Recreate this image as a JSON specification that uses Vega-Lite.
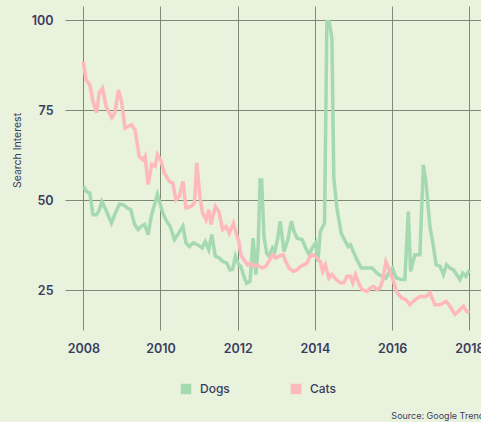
{
  "$schema": "https://vega.github.io/schema/vega-lite/v6.json",
  "autosize": {"type": "none"},
  "padding": {"left": 65, "top": 6, "right": 0, "bottom": 92},
  "width": 416,
  "height": 324,
  "background": "#e9f2dc",
  "config": {
    "view": {"stroke": null},
    "font": "Inter",
    "axis": {"labelFont": "Inter", "titleFont": "Inter"}
  },
  "title": {
    "text": "Source: Google Trends",
    "orient": "bottom",
    "anchor": "end",
    "fontSize": 9,
    "fontWeight": "normal",
    "color": "#3a3c5e",
    "dx": 5,
    "offset": 17
  },
  "data": {
    "values": [
      {"animal":"Dogs","year":2008.01,"value":53.9},{"animal":"Dogs","year":2008.08,"value":52.5},{"animal":"Dogs","year":2008.17,"value":52},{"animal":"Dogs","year":2008.25,"value":46},{"animal":"Dogs","year":2008.34,"value":46},{"animal":"Dogs","year":2008.40,"value":47},{"animal":"Dogs","year":2008.48,"value":49.7},{"animal":"Dogs","year":2008.60,"value":47},{"animal":"Dogs","year":2008.73,"value":43.7},{"animal":"Dogs","year":2008.83,"value":46.5},{"animal":"Dogs","year":2008.94,"value":49},{"animal":"Dogs","year":2009.03,"value":48.8},{"animal":"Dogs","year":2009.14,"value":47.9},{"animal":"Dogs","year":2009.23,"value":47.4},{"animal":"Dogs","year":2009.33,"value":43.3},{"animal":"Dogs","year":2009.42,"value":41.9},{"animal":"Dogs","year":2009.50,"value":42.8},{"animal":"Dogs","year":2009.59,"value":43.3},{"animal":"Dogs","year":2009.68,"value":40.5},{"animal":"Dogs","year":2009.76,"value":45.6},{"animal":"Dogs","year":2009.92,"value":51.6},{"animal":"Dogs","year":2010.01,"value":48.3},{"animal":"Dogs","year":2010.06,"value":46.5},{"animal":"Dogs","year":2010.14,"value":44.6},{"animal":"Dogs","year":2010.25,"value":42.8},{"animal":"Dogs","year":2010.36,"value":39.1},{"animal":"Dogs","year":2010.47,"value":40.9},{"animal":"Dogs","year":2010.58,"value":42.8},{"animal":"Dogs","year":2010.66,"value":38.2},{"animal":"Dogs","year":2010.75,"value":37.2},{"animal":"Dogs","year":2010.85,"value":38.2},{"animal":"Dogs","year":2010.96,"value":37.7},{"animal":"Dogs","year":2011.08,"value":36.8},{"animal":"Dogs","year":2011.16,"value":38.6},{"animal":"Dogs","year":2011.25,"value":36.3},{"animal":"Dogs","year":2011.33,"value":40.5},{"animal":"Dogs","year":2011.42,"value":34.5},{"animal":"Dogs","year":2011.52,"value":34},{"animal":"Dogs","year":2011.61,"value":33.1},{"animal":"Dogs","year":2011.72,"value":32.6},{"animal":"Dogs","year":2011.80,"value":30.7},{"animal":"Dogs","year":2011.87,"value":30.9},{"animal":"Dogs","year":2011.94,"value":34.5},{"animal":"Dogs","year":2012.03,"value":32.1},{"animal":"Dogs","year":2012.08,"value":31.7},{"animal":"Dogs","year":2012.16,"value":28.9},{"animal":"Dogs","year":2012.23,"value":27.0},{"animal":"Dogs","year":2012.32,"value":27.5},{"animal":"Dogs","year":2012.40,"value":39.5},{"animal":"Dogs","year":2012.47,"value":29.4},{"animal":"Dogs","year":2012.53,"value":37.2},{"animal":"Dogs","year":2012.58,"value":55.7},{"animal":"Dogs","year":2012.62,"value":55.7},{"animal":"Dogs","year":2012.68,"value":40},{"animal":"Dogs","year":2012.75,"value":35.4},{"animal":"Dogs","year":2012.81,"value":34.5},{"animal":"Dogs","year":2012.90,"value":36.8},{"animal":"Dogs","year":2012.96,"value":35.8},{"animal":"Dogs","year":2013.03,"value":39.1},{"animal":"Dogs","year":2013.10,"value":44.2},{"animal":"Dogs","year":2013.16,"value":39.1},{"animal":"Dogs","year":2013.20,"value":35.8},{"animal":"Dogs","year":2013.30,"value":39.1},{"animal":"Dogs","year":2013.39,"value":44.2},{"animal":"Dogs","year":2013.46,"value":41.4},{"animal":"Dogs","year":2013.54,"value":39.5},{"animal":"Dogs","year":2013.67,"value":39.1},{"animal":"Dogs","year":2013.76,"value":36.8},{"animal":"Dogs","year":2013.85,"value":34.9},{"animal":"Dogs","year":2013.93,"value":36.8},{"animal":"Dogs","year":2014.02,"value":38.2},{"animal":"Dogs","year":2014.08,"value":33},{"animal":"Dogs","year":2014.14,"value":41.4},{"animal":"Dogs","year":2014.25,"value":43.7},{"animal":"Dogs","year":2014.31,"value":99.7},{"animal":"Dogs","year":2014.37,"value":99.7},{"animal":"Dogs","year":2014.44,"value":95.1},{"animal":"Dogs","year":2014.49,"value":56.2},{"animal":"Dogs","year":2014.57,"value":47.9},{"animal":"Dogs","year":2014.68,"value":40.9},{"animal":"Dogs","year":2014.79,"value":38.6},{"animal":"Dogs","year":2014.86,"value":37.2},{"animal":"Dogs","year":2014.92,"value":37.7},{"animal":"Dogs","year":2015.01,"value":35.4},{"animal":"Dogs","year":2015.09,"value":33.5},{"animal":"Dogs","year":2015.20,"value":31.2},{"animal":"Dogs","year":2015.31,"value":31.2},{"animal":"Dogs","year":2015.48,"value":31.2},{"animal":"Dogs","year":2015.61,"value":29.8},{"animal":"Dogs","year":2015.74,"value":28.9},{"animal":"Dogs","year":2015.84,"value":28.4},{"animal":"Dogs","year":2015.95,"value":30.5},{"animal":"Dogs","year":2016.01,"value":31.2},{"animal":"Dogs","year":2016.07,"value":29.4},{"animal":"Dogs","year":2016.12,"value":28.4},{"animal":"Dogs","year":2016.25,"value":28},{"animal":"Dogs","year":2016.33,"value":28},{"animal":"Dogs","year":2016.42,"value":46.9},{"animal":"Dogs","year":2016.48,"value":30.3},{"animal":"Dogs","year":2016.59,"value":34.9},{"animal":"Dogs","year":2016.72,"value":34.9},{"animal":"Dogs","year":2016.81,"value":59.9},{"animal":"Dogs","year":2016.88,"value":54.8},{"animal":"Dogs","year":2016.98,"value":42.8},{"animal":"Dogs","year":2017.07,"value":37.2},{"animal":"Dogs","year":2017.14,"value":32.1},{"animal":"Dogs","year":2017.24,"value":31.7},{"animal":"Dogs","year":2017.33,"value":29.4},{"animal":"Dogs","year":2017.41,"value":32.1},{"animal":"Dogs","year":2017.50,"value":31.2},{"animal":"Dogs","year":2017.59,"value":30.7},{"animal":"Dogs","year":2017.67,"value":29.4},{"animal":"Dogs","year":2017.76,"value":28},{"animal":"Dogs","year":2017.83,"value":29.8},{"animal":"Dogs","year":2017.91,"value":28.9},{"animal":"Dogs","year":2018.00,"value":30.7},
      {"animal":"Cats","year":2008.00,"value":88.6},{"animal":"Cats","year":2008.07,"value":83.5},{"animal":"Cats","year":2008.17,"value":82.1},{"animal":"Cats","year":2008.26,"value":77.1},{"animal":"Cats","year":2008.35,"value":74.4},{"animal":"Cats","year":2008.41,"value":79.9},{"animal":"Cats","year":2008.50,"value":81.2},{"animal":"Cats","year":2008.59,"value":76.1},{"animal":"Cats","year":2008.74,"value":73},{"animal":"Cats","year":2008.82,"value":74.4},{"animal":"Cats","year":2008.91,"value":80.7},{"animal":"Cats","year":2008.99,"value":77.5},{"animal":"Cats","year":2009.08,"value":70.1},{"animal":"Cats","year":2009.25,"value":71},{"animal":"Cats","year":2009.34,"value":69.6},{"animal":"Cats","year":2009.45,"value":62.2},{"animal":"Cats","year":2009.55,"value":61.3},{"animal":"Cats","year":2009.60,"value":62.2},{"animal":"Cats","year":2009.68,"value":54.4},{"animal":"Cats","year":2009.77,"value":60},{"animal":"Cats","year":2009.86,"value":59.5},{"animal":"Cats","year":2009.92,"value":62.7},{"animal":"Cats","year":2010.01,"value":61},{"animal":"Cats","year":2010.10,"value":57.6},{"animal":"Cats","year":2010.23,"value":55.3},{"animal":"Cats","year":2010.32,"value":54.8},{"animal":"Cats","year":2010.40,"value":50.2},{"animal":"Cats","year":2010.49,"value":51.1},{"animal":"Cats","year":2010.58,"value":55.3},{"animal":"Cats","year":2010.66,"value":47.9},{"animal":"Cats","year":2010.79,"value":48.3},{"animal":"Cats","year":2010.88,"value":49.3},{"animal":"Cats","year":2010.94,"value":60.4},{"animal":"Cats","year":2011.02,"value":51.1},{"animal":"Cats","year":2011.09,"value":46.5},{"animal":"Cats","year":2011.18,"value":44.6},{"animal":"Cats","year":2011.25,"value":47.4},{"animal":"Cats","year":2011.31,"value":43.3},{"animal":"Cats","year":2011.42,"value":48.3},{"animal":"Cats","year":2011.51,"value":46.9},{"animal":"Cats","year":2011.61,"value":41.9},{"animal":"Cats","year":2011.70,"value":42.8},{"animal":"Cats","year":2011.78,"value":40.9},{"animal":"Cats","year":2011.89,"value":43.7},{"animal":"Cats","year":2011.97,"value":40.5},{"animal":"Cats","year":2012.04,"value":38.2},{"animal":"Cats","year":2012.08,"value":34.9},{"animal":"Cats","year":2012.16,"value":33.5},{"animal":"Cats","year":2012.25,"value":32.1},{"animal":"Cats","year":2012.34,"value":32.6},{"animal":"Cats","year":2012.40,"value":31.7},{"animal":"Cats","year":2012.49,"value":32.1},{"animal":"Cats","year":2012.64,"value":31.2},{"animal":"Cats","year":2012.73,"value":31.7},{"animal":"Cats","year":2012.81,"value":33.1},{"animal":"Cats","year":2012.90,"value":34.9},{"animal":"Cats","year":2012.98,"value":34},{"animal":"Cats","year":2013.07,"value":34.5},{"animal":"Cats","year":2013.18,"value":34.9},{"animal":"Cats","year":2013.24,"value":33.1},{"animal":"Cats","year":2013.33,"value":31.2},{"animal":"Cats","year":2013.44,"value":30.3},{"animal":"Cats","year":2013.54,"value":30.7},{"animal":"Cats","year":2013.63,"value":31.7},{"animal":"Cats","year":2013.72,"value":32.1},{"animal":"Cats","year":2013.80,"value":32.6},{"animal":"Cats","year":2013.87,"value":34.5},{"animal":"Cats","year":2013.96,"value":34.9},{"animal":"Cats","year":2014.05,"value":34},{"animal":"Cats","year":2014.14,"value":33},{"animal":"Cats","year":2014.20,"value":30.3},{"animal":"Cats","year":2014.27,"value":32.1},{"animal":"Cats","year":2014.36,"value":28.4},{"animal":"Cats","year":2014.44,"value":29.4},{"animal":"Cats","year":2014.55,"value":28},{"animal":"Cats","year":2014.66,"value":27.1},{"animal":"Cats","year":2014.75,"value":27.1},{"animal":"Cats","year":2014.83,"value":28.9},{"animal":"Cats","year":2014.92,"value":28.9},{"animal":"Cats","year":2014.98,"value":27.1},{"animal":"Cats","year":2015.05,"value":29.4},{"animal":"Cats","year":2015.13,"value":27.1},{"animal":"Cats","year":2015.22,"value":25.2},{"animal":"Cats","year":2015.35,"value":24.7},{"animal":"Cats","year":2015.44,"value":25.7},{"animal":"Cats","year":2015.52,"value":26.1},{"animal":"Cats","year":2015.61,"value":25.2},{"animal":"Cats","year":2015.69,"value":25.7},{"animal":"Cats","year":2015.76,"value":28},{"animal":"Cats","year":2015.84,"value":33},{"animal":"Cats","year":2015.93,"value":30.7},{"animal":"Cats","year":2016.04,"value":27.5},{"animal":"Cats","year":2016.12,"value":24.5},{"animal":"Cats","year":2016.25,"value":22.9},{"animal":"Cats","year":2016.36,"value":22.4},{"animal":"Cats","year":2016.46,"value":21},{"animal":"Cats","year":2016.59,"value":22.4},{"animal":"Cats","year":2016.72,"value":23.3},{"animal":"Cats","year":2016.88,"value":23.3},{"animal":"Cats","year":2016.98,"value":24.3},{"animal":"Cats","year":2017.11,"value":21},{"animal":"Cats","year":2017.24,"value":21},{"animal":"Cats","year":2017.40,"value":21.9},{"animal":"Cats","year":2017.50,"value":20.6},{"animal":"Cats","year":2017.63,"value":18.3},{"animal":"Cats","year":2017.76,"value":19.7},{"animal":"Cats","year":2017.85,"value":20.6},{"animal":"Cats","year":2017.93,"value":19.2},{"animal":"Cats","year":2018.00,"value":18.7}
    ]
  },
  "mark": {"type": "line", "strokeWidth": 3.5, "strokeJoin": "miter", "clip": true},
  "encoding": {
    "x": {
      "field": "year",
      "type": "quantitative",
      "scale": {"domain": [2007.526, 2018.303], "nice": false, "zero": false},
      "axis": {
        "values": [2008, 2010, 2012, 2014, 2016, 2018],
        "format": "d",
        "title": null,
        "domain": false,
        "ticks": false,
        "labelPadding": 12,
        "labelFontSize": 12.5,
        "labelFontWeight": 600,
        "labelColor": "#3a3c5e",
        "gridColor": "#7f8975",
        "gridOpacity": 1,
        "gridWidth": 1
      }
    },
    "y": {
      "field": "value",
      "type": "quantitative",
      "scale": {"domain": [14, 104], "nice": false, "zero": false},
      "axis": {
        "values": [25, 50, 75, 100],
        "title": "Search Interest",
        "titleFontSize": 10.5,
        "titleFontWeight": "normal",
        "titleColor": "#3a3c5e",
        "titleX": -48,
        "titleY": 144,
        "titleBaseline": "middle",
        "titleAngle": -90,
        "domain": false,
        "ticks": false,
        "labelPadding": 12,
        "labelFontSize": 12.5,
        "labelFontWeight": 600,
        "labelColor": "#3a3c5e",
        "gridColor": "#7f8975",
        "gridOpacity": 1,
        "gridWidth": 1
      }
    },
    "color": {
      "field": "animal",
      "type": "nominal",
      "scale": {"domain": ["Dogs", "Cats"], "range": ["#a5dab0", "#ffb8bd"]},
      "legend": {
        "title": null,
        "orient": "none",
        "direction": "horizontal",
        "legendX": 115,
        "legendY": 377,
        "symbolType": "square",
        "symbolSize": 110,
        "symbolStrokeWidth": 0,
        "labelFontSize": 12,
        "labelFontWeight": 500,
        "labelColor": "#3a3c5e",
        "labelOffset": 8,
        "columnPadding": 60,
        "padding": 0,
        "encode": {
          "symbols": {
            "update": {
              "fill": {"scale": "color", "field": "value"},
              "stroke": {"value": "transparent"}
            }
          }
        }
      }
    }
  }
}
